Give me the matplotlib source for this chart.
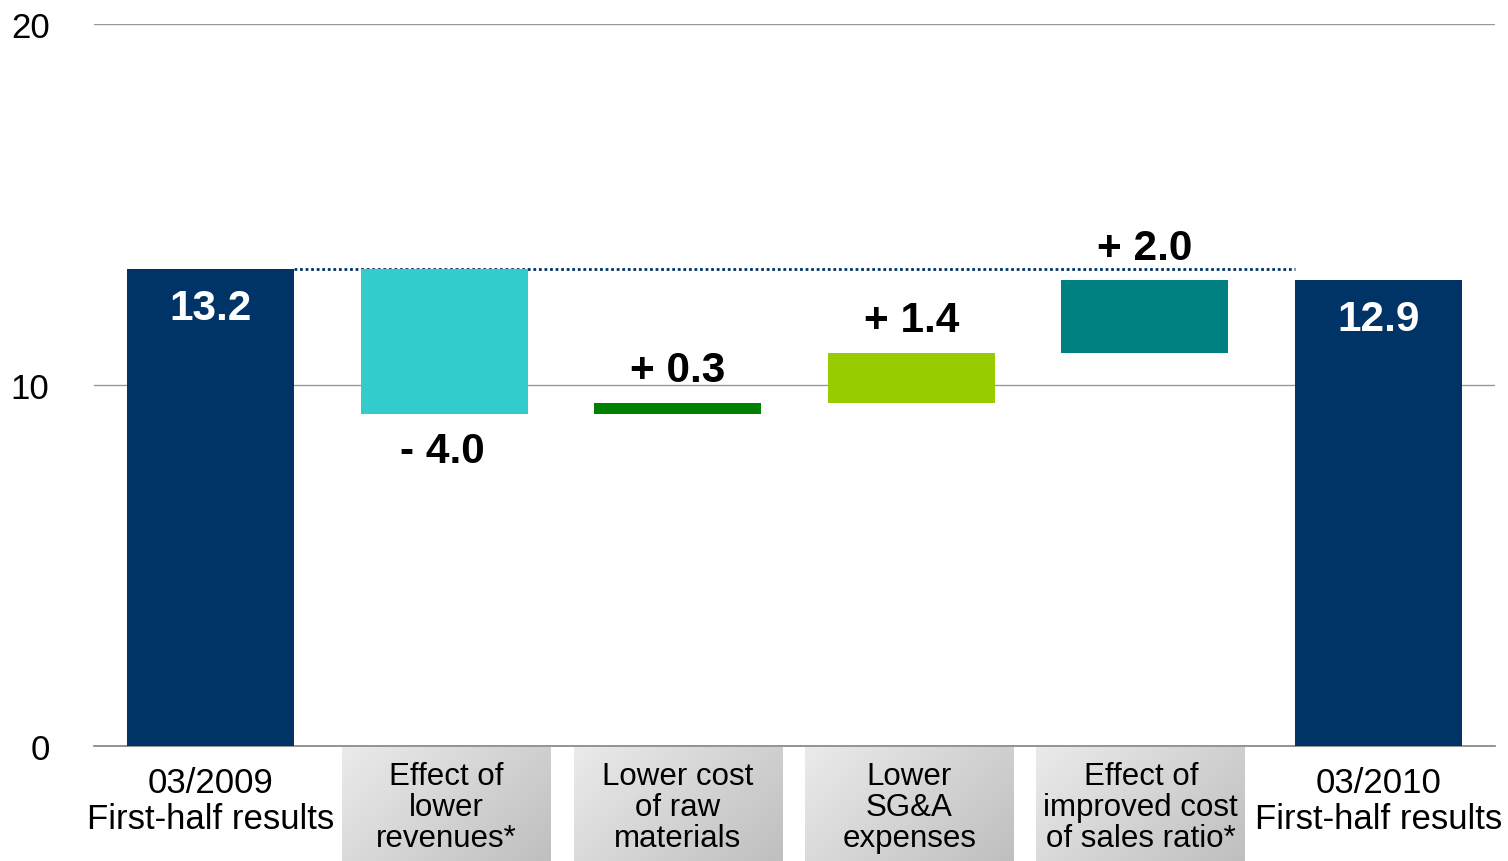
# Waterfall chart: first-half results 03/2009 -> 03/2010.
import numpy as np
import matplotlib
matplotlib.use("Agg")
import matplotlib.pyplot as plt

plt.rcParams["font.family"] = ["Liberation Sans", "DejaVu Sans"]

categories = ["03/2009\nFirst-half results", "Effect of\nlower\nrevenues*",
              "Lower cost\nof raw\nmaterials", "Lower\nSG&A\nexpenses",
              "Effect of\nimproved cost\nof sales ratio*", "03/2010\nFirst-half results"]
start_value = 13.2
deltas = [-4.0, 0.3, 1.4, 2.0]
end_value = 12.9
delta_labels = ["- 4.0", "+ 0.3", "+ 1.4", "+ 2.0"]
delta_colors = ["#33CCCC", "#008000", "#99CC00", "#008080"]
total_color = "#003366"
yticks = [0, 10, 20]

W, H = 1508, 862
fig = plt.figure(figsize=(W / 100, H / 100), dpi=100)
ax = fig.add_axes([94 / W, 1 - 747 / H, (1495 - 94) / W, (747 - 25) / H])

bar_w = 0.715
x = np.arange(len(categories))

# totals
ax.bar([x[0], x[-1]], [start_value, end_value], width=bar_w, color=total_color, zorder=3)
for xi, v in [(x[0], start_value), (x[-1], end_value)]:
    ax.annotate(f"{v:.1f}", (xi, v), xytext=(0, -28), textcoords="offset points",
                ha="center", va="center", color="white", fontsize=30.5, fontweight="bold")

# deltas
running = start_value
for i, (d, lab, c) in enumerate(zip(deltas, delta_labels, delta_colors)):
    xi = x[i + 1]
    bottom = running + d if d < 0 else running
    ax.bar(xi, abs(d), bottom=bottom, width=bar_w, color=c, zorder=3)
    if d < 0:
        ax.annotate(lab, (xi, bottom), xytext=(-1, -26.5), textcoords="offset points",
                    ha="center", va="center", fontsize=30.5, fontweight="bold")
    else:
        ax.annotate(lab, (xi, bottom + d), xytext=(0, 23.5), textcoords="offset points",
                    ha="center", va="center", fontsize=30.5, fontweight="bold")
    running += d

# dotted reference line at starting level
ax.plot([x[0] + bar_w / 2, x[-1] - bar_w / 2], [start_value, start_value],
        ls=(0, (1, 1.0)), color=total_color, lw=2, zorder=2)

# gridlines
for t in yticks[1:]:
    ax.axhline(t, color="#999999", lw=1, zorder=1)

# gray gradient boxes behind middle category labels (slightly tighter pitch than bars)
gx, gy = np.meshgrid(np.linspace(0, 1, 200), np.linspace(0, 1, 120))
g = (gx * 0.6 + gy * 0.4)
light, dark = 0.92, 0.74
img = light + (dark - light) * g
rgb = np.dstack([img, img, img])
unit = 722 / 20
box_x = 1.01 + 0.991 * (x[1:-1] - 1)
for bx in box_x:
    ax.imshow(rgb, extent=(bx - 0.447, bx + 0.447, -130 / unit, -1.2 / unit),
              aspect="auto", clip_on=False, zorder=0, interpolation="bilinear")

# category labels
label_x = [x[0]] + list(box_x) + [x[-1]]
for i, (lx, lab) in enumerate(zip(label_x, categories)):
    if i in (0, len(categories) - 1):
        ax.text(lx, -0.55, lab, ha="center", va="top", fontsize=25, linespacing=1.12)
    else:
        ax.text(lx, -0.42, lab, ha="center", va="top", fontsize=22.5, linespacing=1.03)

ax.set_xlim(-0.5, 5.5)
ax.set_ylim(0, 20)
ax.set_xticks([])
ax.set_yticks(yticks)
ax.tick_params(axis="y", length=0, pad=32, labelsize=25)
for s in ["top", "right", "left"]:
    ax.spines[s].set_visible(False)
ax.spines["bottom"].set_color("#808080")
ax.spines["bottom"].set_linewidth(1.2)

fig.savefig("out.png", dpi=100)
